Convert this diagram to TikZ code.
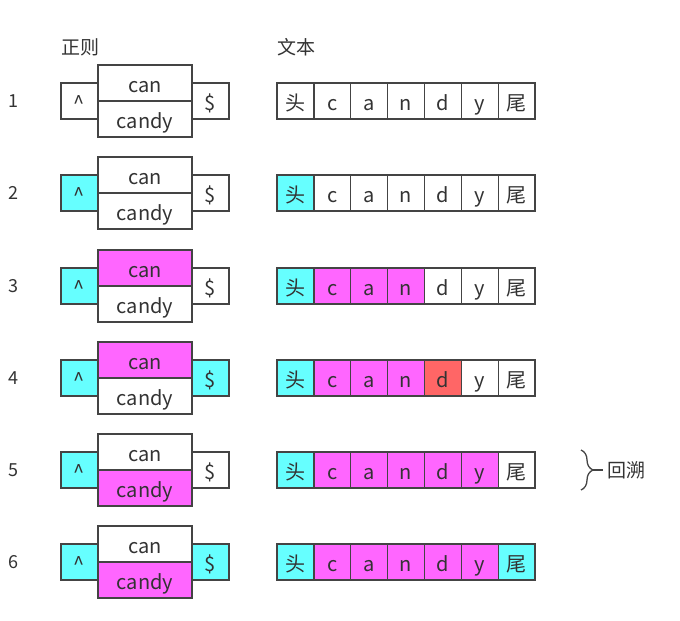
\documentclass[tikz,border=0pt]{standalone}
\usepackage{fontspec}
\setmainfont{Noto Sans CJK SC}
\usetikzlibrary{decorations.pathreplacing}
\definecolor{cy}{HTML}{66FFFF}
\definecolor{mg}{HTML}{FF66FF}
\definecolor{rd}{HTML}{FF6666}
\definecolor{ln}{HTML}{444444}
\definecolor{tx}{HTML}{333333}
\tikzset{
  box/.style={draw=ln, line width=1.3pt, inner sep=0pt, text=tx,
    font=\fontsize{20}{20}\selectfont, text height=18pt, text depth=0pt},
  sidebox/.style={box, minimum width=37pt, minimum height=36pt},
  altbox/.style={box, minimum width=94pt, minimum height=36pt},
  cell/.style={box, minimum width=36.86pt, minimum height=36pt},
  lbl/.style={text=tx, inner sep=0pt, font=\fontsize{19}{19}\selectfont},
  num/.style={text=tx, inner sep=0pt, font=\fontsize{18}{18}\selectfont},
}
\newcommand{\regrow}[6]{%
  % #1 row id, #2 y, #3 ^ color, #4 can color, #5 candy color, #6 $ color
  \node[num] (n#1) at (13,#2) {#1};
  \node[sidebox, fill=#3] (hat#1) at (79.5,#2) {\textasciicircum};
  \node[sidebox, fill=#6] (dol#1) at (210.5,#2) {\$};
  \node[altbox, fill=#4] (can#1) at (145,#2-18) {can};
  \node[altbox, fill=#5] (candy#1) at (145,#2+18) {candy};
}
\newcommand{\txtrow}[3]{%
  % #1 row id, #2 y, #3 list of 7 colors
  \foreach \c [count=\i] in {#3} {
    \ifcase\i\or\def\ch{头}\or\def\ch{c}\or\def\ch{a}\or\def\ch{n}\or\def\ch{d}\or\def\ch{y}\or\def\ch{尾}\fi
    \node[cell, fill=\c] (t#1-\i) at ({277+36.86*(\i-0.5)},#2) {\ch};
  }
}
\begin{document}
\begin{tikzpicture}[x=1pt,y=-1pt]
\useasboundingbox (0,0) rectangle (680,621);
\node[lbl] (hreg) at (80,47) {正则};
\node[lbl] (htxt) at (296,47) {文本};

\regrow{1}{101}{white}{white}{white}{white}
\txtrow{1}{101}{white,white,white,white,white,white,white}

\regrow{2}{193}{cy}{white}{white}{white}
\txtrow{2}{193}{cy,white,white,white,white,white,white}

\regrow{3}{286}{cy}{mg}{white}{white}
\txtrow{3}{286}{cy,mg,mg,mg,white,white,white}

\regrow{4}{378}{cy}{mg}{white}{cy}
\txtrow{4}{378}{cy,mg,mg,mg,rd,white,white}

\regrow{5}{470}{cy}{white}{mg}{white}
\txtrow{5}{470}{cy,mg,mg,mg,mg,mg,white}

\regrow{6}{562}{cy}{white}{mg}{cy}
\txtrow{6}{562}{cy,mg,mg,mg,mg,mg,cy}

\coordinate (btop) at (581,450);
\coordinate (bbot) at (581,490);
\coordinate (btip) at (593,470);
\draw[ln, line width=1.3pt, decorate, decoration={brace, amplitude=12pt}] (btop) -- (bbot);
\node[lbl, anchor=west] (back) at (607,470) {回溯};
\draw[ln, line width=1.3pt] (btip) -- ([xshift=-4pt]back.west);
\end{tikzpicture}
\end{document}
